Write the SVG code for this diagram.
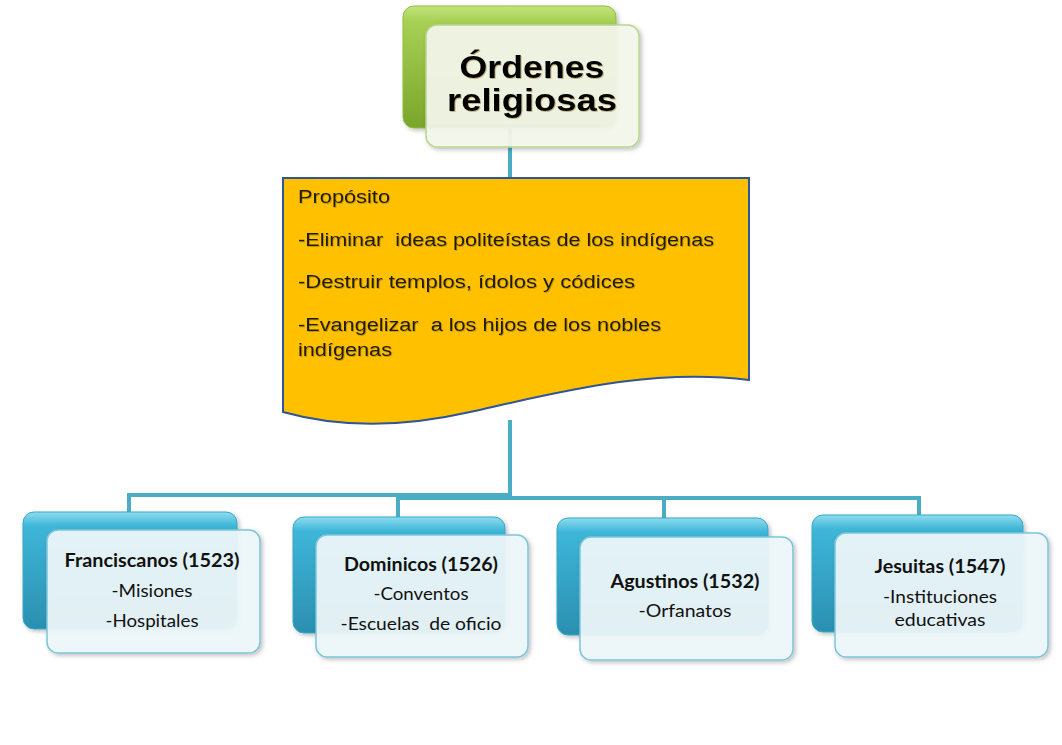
<svg xmlns="http://www.w3.org/2000/svg" width="1062" height="745" viewBox="0 0 1062 745">
<defs>
<linearGradient id="gGreen" x1="0" y1="0" x2="0" y2="1">
<stop offset="0" stop-color="#c5e47c"/>
<stop offset="0.12" stop-color="#a8d055"/>
<stop offset="1" stop-color="#7aa52b"/>
</linearGradient>
<linearGradient id="gBlue" x1="0" y1="0" x2="0" y2="1">
<stop offset="0" stop-color="#8fdcef"/>
<stop offset="0.12" stop-color="#3db6d8"/>
<stop offset="1" stop-color="#2b8fb0"/>
</linearGradient>
<filter id="sh" x="-10%" y="-10%" width="130%" height="130%">
<feDropShadow dx="2" dy="2" stdDeviation="2" flood-color="#000" flood-opacity="0.25"/>
</filter>
<filter id="tsh" x="-5%" y="-5%" width="110%" height="120%">
<feDropShadow dx="0.8" dy="0.8" stdDeviation="0.5" flood-color="#7a5a00" flood-opacity="0.5"/>
</filter>
</defs>
<style>
.conn{fill:none;stroke:#4bacc6;stroke-width:4}
.backG{fill:url(#gGreen);stroke:#8fbf3f;stroke-width:1}
.backB{fill:url(#gBlue);stroke:#39a7c8;stroke-width:1}
.frontG{fill:#f4f8ec;fill-opacity:0.93;stroke:#b9d68d;stroke-width:1.5}
.frontB{fill:#eef7fa;fill-opacity:0.93;stroke:#7cc6da;stroke-width:1.5}
.title{font-family:"Liberation Sans",Arial,sans-serif;font-weight:bold;font-size:32px;fill:#000;text-anchor:middle}
.doc{font-family:"Liberation Sans",Arial,sans-serif;font-size:18px;fill:#1a1a00}
.nt{font-family:Lato,"Open Sans",sans-serif;font-weight:bold;font-size:18px;fill:#111;text-anchor:middle}
.nb{font-family:Lato,"Open Sans",sans-serif;font-size:18px;fill:#111;text-anchor:middle}
</style>
<g id="connectors">
<path class="conn" d="M510,128 V180"/>
<path class="conn" d="M510,420 V498"/>
<path class="conn" d="M510,495 H129 V514"/>
<path class="conn" d="M510,498 H398 V519"/>
<path class="conn" d="M510,498 H664 V520"/>
<path class="conn" d="M510,498 H919 V517"/>
</g>
<g id="node-ordenes">
<rect class="backG" x="403" y="6" width="213" height="122" rx="11" filter="url(#sh)"/>
<rect class="frontG" x="426" y="25" width="213" height="122" rx="11" filter="url(#sh)"/>
<text class="title" x="532" y="78" textLength="145" lengthAdjust="spacingAndGlyphs" filter="url(#tsh)">Órdenes</text>
<text class="title" x="532" y="111" textLength="170" lengthAdjust="spacingAndGlyphs" filter="url(#tsh)">religiosas</text>
</g>
<g id="node-proposito">
<path d="M283,178 H749 V380 C650,368 560,392 470,412 C400,428 340,428 283,412 Z" fill="#ffc000" stroke="#2f5597" stroke-width="2"/>
<g class="doc" filter="url(#tsh)">
<text x="298" y="203" textLength="92" lengthAdjust="spacingAndGlyphs">Propósito</text>
<text x="298" y="246" textLength="416" lengthAdjust="spacingAndGlyphs" xml:space="preserve">-Eliminar  ideas politeístas de los indígenas</text>
<text x="298" y="288" textLength="337" lengthAdjust="spacingAndGlyphs">-Destruir templos, ídolos y códices</text>
<text x="298" y="331" textLength="363" lengthAdjust="spacingAndGlyphs" xml:space="preserve">-Evangelizar  a los hijos de los nobles</text>
<text x="298" y="356" textLength="94" lengthAdjust="spacingAndGlyphs">indígenas</text>
</g>
</g>
<g id="node-franciscanos">
<rect class="backB" x="23" y="512" width="214" height="117" rx="11" filter="url(#sh)"/>
<rect class="frontB" x="47" y="530" width="213" height="123" rx="11" filter="url(#sh)"/>
<text class="nt" x="152" y="567" textLength="175" lengthAdjust="spacingAndGlyphs">Franciscanos (1523)</text>
<text class="nb" x="152" y="597" textLength="81" lengthAdjust="spacingAndGlyphs">-Misiones</text>
<text class="nb" x="152" y="627" textLength="93" lengthAdjust="spacingAndGlyphs">-Hospitales</text>
</g>
<g id="node-dominicos">
<rect class="backB" x="293" y="517" width="212" height="116" rx="11" filter="url(#sh)"/>
<rect class="frontB" x="316" y="535" width="212" height="122" rx="11" filter="url(#sh)"/>
<text class="nt" x="421" y="571" textLength="154" lengthAdjust="spacingAndGlyphs">Dominicos (1526)</text>
<text class="nb" x="421" y="600" textLength="95" lengthAdjust="spacingAndGlyphs">-Conventos</text>
<text class="nb" x="421" y="630" textLength="161" lengthAdjust="spacingAndGlyphs" xml:space="preserve">-Escuelas  de oficio</text>
</g>
<g id="node-agustinos">
<rect class="backB" x="557" y="518" width="211" height="117" rx="11" filter="url(#sh)"/>
<rect class="frontB" x="580" y="537" width="213" height="123" rx="11" filter="url(#sh)"/>
<text class="nt" x="685" y="588" textLength="149" lengthAdjust="spacingAndGlyphs">Agustinos (1532)</text>
<text class="nb" x="685" y="617" textLength="93" lengthAdjust="spacingAndGlyphs">-Orfanatos</text>
</g>
<g id="node-jesuitas">
<rect class="backB" x="812" y="515" width="211" height="117" rx="11" filter="url(#sh)"/>
<rect class="frontB" x="835" y="533" width="213" height="124" rx="11" filter="url(#sh)"/>
<text class="nt" x="940" y="573" textLength="131" lengthAdjust="spacingAndGlyphs">Jesuitas (1547)</text>
<text class="nb" x="940" y="603" textLength="114" lengthAdjust="spacingAndGlyphs">-Instituciones</text>
<text class="nb" x="940" y="626" textLength="91" lengthAdjust="spacingAndGlyphs">educativas</text>
</g>
</svg>
